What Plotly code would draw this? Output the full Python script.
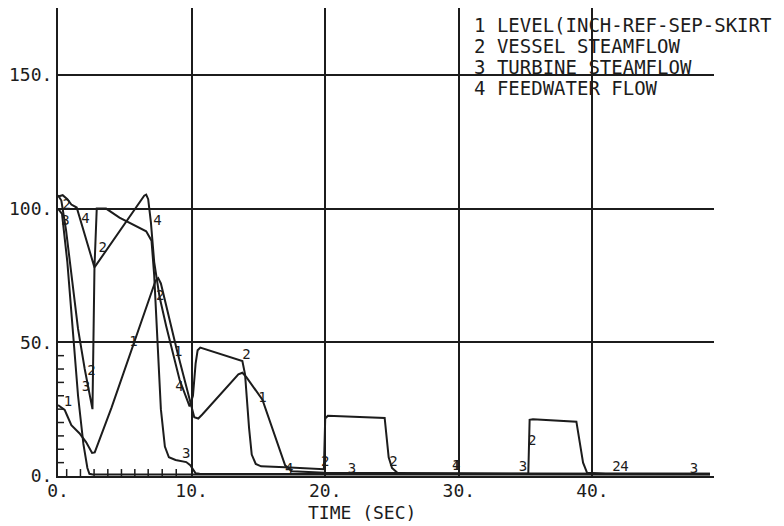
import plotly.graph_objects as go

# ---------------- data ----------------
curve1_t = [0, 0.5, 0.65, 1.0, 1.6, 2.1, 2.55, 2.75, 4.0, 5.7, 7.0, 7.3, 7.5, 7.7, 8.9, 9.9, 10.2,
            10.5, 10.8, 13.5, 13.8, 14.1, 15.3, 17.0, 17.5, 20, 25, 30, 35, 40, 45, 48.8]
curve1_v = [26.5, 24.7, 23, 19, 16, 12.7, 8.6, 8.8, 25.5, 50, 68, 73, 74, 72, 47, 28, 22,
            21.5, 23, 38, 38.6, 37, 28.5, 4, 1.8, 1.2, 1.0, 1.0, 0.9, 0.9, 0.8, 0.8]

curve2_t = [0, 0.25, 0.6, 1.0, 1.5, 2.0, 2.3, 2.5, 2.58, 2.73, 6.2, 6.45, 6.6, 6.75, 6.95, 7.2,
            7.6, 8.1, 9.1, 9.85, 10.1, 10.3, 10.45, 10.65, 13.8, 14.0, 14.3, 14.5, 14.8, 15.2,
            17.0, 19.9, 20.0, 20.2, 24.45, 24.6, 24.75, 25.0, 25.4, 26.0, 35.2, 35.3, 35.55,
            38.8, 39.05, 39.3, 39.6, 41, 48.8]
curve2_v = [105, 103, 92, 75, 55, 40, 32, 26, 25, 78, 103, 104.8, 105.2, 103.5, 95, 80,
            67, 56, 36, 26, 30, 42, 47, 48, 43, 38, 18, 8, 4.5, 3.6,
            3.3, 2.5, 21.5, 22.5, 21.7, 14, 7, 3, 1.2, 0.9, 0.8, 21, 21.2,
            20.3, 12, 5, 1.2, 0.8, 0.8]

curve3_t = [0, 0.3, 0.7, 1.1, 1.5, 1.9, 2.2, 2.35, 2.6, 10, 20, 30, 40, 48.8]
curve3_v = [100, 98, 80, 55, 30, 12, 3, 0.8, 0.6, 0.6, 0.6, 0.6, 0.6, 0.6]

curve4_t = [0, 0.35, 0.7, 1.0, 1.4, 2.73, 2.9, 3.6, 4.6, 6.6, 7.0, 7.2, 7.4, 7.7, 8.0, 8.3,
            8.8, 9.6, 9.9, 10.3, 10.6, 17, 20, 30, 40, 48.8]
curve4_v = [104.5, 105, 103.5, 101.5, 100.4, 78, 100, 100, 96.6, 91.5, 88, 75, 55, 25, 11, 7,
            6, 5.2, 4, 1, 0.8, 0.8, 0.7, 0.7, 0.7, 0.7]

# curve number labels written along the traces
lab_t = [0.75, 0.65, 0.55, 2.05, 2.5, 2.1, 3.35, 5.65, 7.45, 7.65, 9.0, 9.1, 9.6, 14.1, 15.3,
         17.3, 20.0, 22.0, 25.1, 29.8, 29.8, 34.8, 35.5, 41.8, 42.4, 47.6]
lab_v = [27.5, 101, 95, 96, 39, 33, 85, 50, 95, 67, 46, 33, 8, 45, 29,
         2.5, 5, 2.5, 5, 3.5, 3.5, 3, 13, 3, 3, 2.5]
lab_text = ["1", "2", "3", "4", "2", "3", "2", "1", "4", "2", "1", "4", "3", "2", "1",
            "4", "2", "3", "2", "1", "4", "3", "2", "2", "4", "3"]

legend_lines = ["1 LEVEL(INCH-REF-SEP-SKIRT", "2 VESSEL STEAMFLOW",
                "3 TURBINE STEAMFLOW", "4 FEEDWATER FLOW"]

x_tickvals = [0, 10, 20, 30, 40]
x_ticktext = ["0.", "10.", "20.", "30.", "40."]
y_tickvals = [0, 50, 100, 150]
y_ticktext = ["0.", "50.", "100.", "150."]
x_minor = [0.65, 1.68, 2.7, 3.73, 4.75, 5.75, 6.75, 7.8, 8.85]
y_minor = [5, 10, 15, 20, 25, 30, 35, 40, 45]

# ---------------- figure ----------------
INK = "#1c1c1c"
MONO = "DejaVu Sans Mono"

fig = go.Figure()
for t, v, name in [(curve1_t, curve1_v, "1"), (curve2_t, curve2_v, "2"),
                   (curve3_t, curve3_v, "3"), (curve4_t, curve4_v, "4")]:
    fig.add_trace(go.Scatter(x=t, y=v, mode="lines", name=name,
                             line=dict(color=INK, width=2), showlegend=False,
                             hoverinfo="skip"))

fig.add_trace(go.Scatter(x=lab_t, y=lab_v, mode="text", text=lab_text,
                         textposition="middle center",
                         textfont=dict(family=MONO, size=14, color=INK),
                         showlegend=False, hoverinfo="skip"))

shapes = []
for v in y_minor:
    shapes.append(dict(type="line", xref="x", yref="y", x0=0, x1=0.45, y0=v, y1=v,
                       line=dict(color=INK, width=1.5)))
for t in x_minor:
    shapes.append(dict(type="line", xref="x", yref="y", x0=t, x1=t, y0=0, y1=2.6,
                       line=dict(color=INK, width=1.5)))

annotations = []
row_y = [0.9637, 0.9188, 0.8739, 0.8291]
for txt, yy in zip(legend_lines, row_y):
    annotations.append(dict(text=txt, xref="paper", yref="paper", x=0.632, y=yy,
                            xanchor="left", yanchor="middle", showarrow=False,
                            borderpad=0,
                            font=dict(family=MONO, size=19, color=INK)))
annotations.append(dict(text="TIME (SEC)", xref="paper", yref="paper", x=0.463, y=-0.079,
                        xanchor="center", yanchor="middle", showarrow=False,
                        borderpad=0,
                        font=dict(family=MONO, size=18, color=INK)))

fig.update_layout(
    width=784, height=526,
    margin=dict(l=58, r=70, t=8, b=50),
    paper_bgcolor="white", plot_bgcolor="white",
    shapes=shapes, annotations=annotations,
    xaxis=dict(range=[0, 49.1], tickvals=x_tickvals, ticktext=x_ticktext,
               showgrid=True, gridcolor=INK, gridwidth=1.6, zeroline=False,
               showline=True, linecolor=INK, linewidth=2, ticks="",
               ticklabelstandoff=-3,
               tickfont=dict(family=MONO, size=18, color=INK)),
    yaxis=dict(range=[0, 175], tickvals=y_tickvals, ticktext=y_ticktext,
               showgrid=True, gridcolor=INK, gridwidth=1.6, zeroline=False,
               showline=True, linecolor=INK, linewidth=2, ticks="",
               tickfont=dict(family=MONO, size=18, color=INK)),
)

fig.write_html("out.html")
